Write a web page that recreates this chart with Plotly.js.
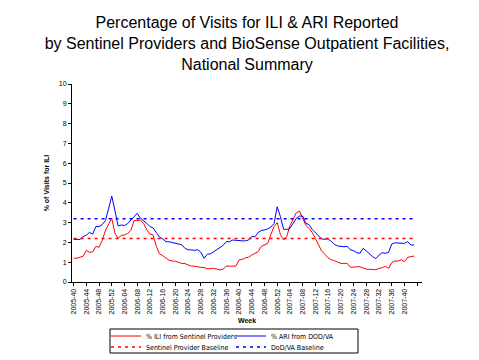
<!DOCTYPE html>
<html>
<head>
<meta charset="utf-8">
<script src="https://cdn.plot.ly/plotly-3.0.1.min.js"></script>
<style>html,body{margin:0;padding:0;background:#fff;}#chart{width:479px;height:360px;}</style>
</head>
<body>
<div id="chart"></div>
<script>
const weeks = [
"2005-40","2005-41","2005-42","2005-43","2005-44","2005-45","2005-46","2005-47","2005-48","2005-49","2005-50","2005-51","2005-52",
"2006-01","2006-02","2006-03","2006-04","2006-05","2006-06","2006-07","2006-08","2006-09","2006-10","2006-11","2006-12","2006-13",
"2006-14","2006-15","2006-16","2006-17","2006-18","2006-19","2006-20","2006-21","2006-22","2006-23","2006-24","2006-25","2006-26",
"2006-27","2006-28","2006-29","2006-30","2006-31","2006-32","2006-33","2006-34","2006-35","2006-36","2006-37","2006-38","2006-39",
"2006-40","2006-41","2006-42","2006-43","2006-44","2006-45","2006-46","2006-47","2006-48","2006-49","2006-50","2006-51","2006-52",
"2007-01","2007-02","2007-03","2007-04","2007-05","2007-06","2007-07","2007-08","2007-09","2007-10","2007-11","2007-12","2007-13",
"2007-14","2007-15","2007-16","2007-17","2007-18","2007-19","2007-20","2007-21","2007-22","2007-23","2007-24","2007-25","2007-26",
"2007-27","2007-28","2007-29","2007-30","2007-31","2007-32","2007-33","2007-34","2007-35","2007-36","2007-37","2007-38","2007-39",
"2007-40","2007-41","2007-42","2007-43","2007-44","2007-45"
];

const iliSentinel = [
1.20,1.20,1.25,1.30,1.60,1.50,1.52,1.80,1.75,2.10,2.60,2.95,3.22,
2.45,2.22,2.35,2.38,2.45,2.60,3.10,3.10,3.12,2.96,2.63,2.43,2.37,
1.80,1.42,1.33,1.20,1.10,1.06,1.05,0.99,0.94,0.93,0.85,0.80,0.80,
0.76,0.74,0.73,0.67,0.67,0.69,0.65,0.61,0.65,0.80,0.80,0.80,0.80,
1.11,1.14,1.22,1.25,1.36,1.45,1.53,1.80,1.87,1.95,2.40,2.80,3.00,
2.40,2.12,2.30,2.85,3.20,3.50,3.58,3.25,2.86,2.70,2.50,2.20,1.87,
1.55,1.40,1.22,1.12,1.08,1.00,0.94,0.94,0.94,0.74,0.77,0.77,0.77,
0.72,0.65,0.64,0.64,0.62,0.69,0.72,0.80,0.69,0.98,1.06,1.06,1.12,
1.03,1.25,1.28,1.31
];

const ariDodVa = [
2.15,2.15,2.15,2.29,2.37,2.50,2.42,2.80,2.80,2.90,3.10,3.70,4.34,
3.60,2.83,2.88,2.85,2.95,3.12,3.25,3.47,3.22,3.10,2.96,2.80,2.73,
2.50,2.27,2.18,2.04,2.03,2.00,1.96,1.94,1.88,1.70,1.63,1.62,1.60,
1.63,1.50,1.20,1.40,1.42,1.53,1.62,1.75,1.85,2.04,2.04,2.12,2.10,
2.09,2.08,2.08,2.12,2.30,2.28,2.50,2.60,2.63,2.68,2.78,2.95,3.80,
3.30,2.66,2.66,2.71,2.96,3.22,3.33,3.33,2.96,2.90,2.65,2.48,2.29,
2.17,2.16,2.18,2.05,1.90,1.82,1.79,1.78,1.80,1.62,1.58,1.48,1.45,
1.70,1.57,1.40,1.28,1.18,1.36,1.48,1.45,1.50,1.92,1.98,1.96,1.97,
1.95,2.04,1.87,1.87
];

const sentinelBaseline = 2.2;
const dodvaBaseline = 3.2;

const tickWeeks = [
"2005-40","2005-44","2005-48","2005-52","2006-04","2006-08","2006-12","2006-16","2006-20",
"2006-24","2006-28","2006-32","2006-36","2006-40","2006-44","2006-48","2006-52","2007-04",
"2007-08","2007-12","2007-16","2007-20","2007-24","2007-28","2007-32","2007-36","2007-40","2007-44"
];
const tickText = tickWeeks.map((w, k) => k === tickWeeks.length - 1 ? "" : w);

const names = ["% ILI from Sentinel Providers", "% ARI from DOD/VA", "Sentinel Provider Baseline", "DoD/VA Baseline"];

const lastIdx = iliSentinel.length - 1;
const traces = [
  {x: weeks.slice(0, iliSentinel.length), y: iliSentinel, name: names[0], type: "scatter", mode: "lines",
   line: {color: "#FF0000", width: 1}, legend: "legend"},
  {x: weeks.slice(0, ariDodVa.length), y: ariDodVa, name: names[1], type: "scatter", mode: "lines",
   line: {color: "#0000FF", width: 1}, legend: "legend"},
  {x: [weeks[0], weeks[lastIdx]], y: [sentinelBaseline, sentinelBaseline], name: names[2], type: "scatter", mode: "lines",
   line: {color: "#FF0000", width: 1.5, dash: "3px,4px"}, legend: "legend2"},
  {x: [weeks[0], weeks[lastIdx]], y: [dodvaBaseline, dodvaBaseline], name: names[3], type: "scatter", mode: "lines",
   line: {color: "#0000FF", width: 1.5, dash: "3px,4px"}, legend: "legend2"}
];

// plot area: x 72..422, y 84..282 (px)
const px = v => (v - 72) / 350;
const py = v => (282 - v) / 198;
const legendFont = {size: 7, family: "Liberation Sans Narrow, Arial Narrow, DejaVu Sans Condensed, Liberation Sans, Arial, sans-serif"};
const legendCommon = {
  orientation: "h", xanchor: "left", yanchor: "middle",
  bgcolor: "rgba(0,0,0,0)", borderwidth: 0, font: legendFont,
  entrywidth: 80, entrywidthmode: "pixels", tracegroupgap: 0, itemwidth: 30
};

const layout = {
  width: 479, height: 360,
  margin: {l: 72, r: 57, t: 84, b: 78, autoexpand: false},
  paper_bgcolor: "#FFFFFF", plot_bgcolor: "#FFFFFF",
  font: {family: "Liberation Sans, Arial, sans-serif", color: "#000000"},
  title: {
    text: "Percentage of Visits for ILI &amp; ARI Reported<br>by Sentinel Providers and BioSense Outpatient Facilities,<br>National Summary",
    font: {size: 16, color: "#000000"},
    x: 0.5, xanchor: "center", xref: "paper", y: 1 - 28 / 360, yref: "container", yanchor: "middle"
  },
  xaxis: {
    type: "category", categoryorder: "array", categoryarray: weeks,
    range: [-0.5, weeks.length - 0.5], automargin: false,
    tickmode: "array", tickvals: tickWeeks, ticktext: tickText,
    tickangle: -90, tickfont: {size: 7}, ticks: "outside", ticklen: 3, tickcolor: "#000",
    showline: true, linecolor: "#000", linewidth: 1, showgrid: false, zeroline: false,
    title: {text: "<b>Week</b>", font: {size: 7}, standoff: 4}
  },
  yaxis: {
    range: [0, 10], dtick: 1, tick0: 0, automargin: false,
    tickfont: {size: 7}, ticks: "outside", ticklen: 3, tickcolor: "#000",
    showline: true, linecolor: "#000", linewidth: 1, showgrid: false, zeroline: false,
    title: {text: "<b>% of Visits for ILI</b>", font: {size: 7}, standoff: 8}
  },
  showlegend: true,
  legend: Object.assign({}, legendCommon, {x: px(106), y: py(336)}),
  legend2: Object.assign({}, legendCommon, {x: px(106), y: py(347)}),
  shapes: [
    {type: "rect", xref: "paper", yref: "paper", x0: px(110), x1: px(358), y0: py(329), y1: py(353),
     line: {color: "#000", width: 1}, fillcolor: "rgba(0,0,0,0)", layer: "below"}
  ]
};

Plotly.newPlot("chart", traces, layout, {staticPlot: true, displayModeBar: false});
</script>
</body>
</html>
